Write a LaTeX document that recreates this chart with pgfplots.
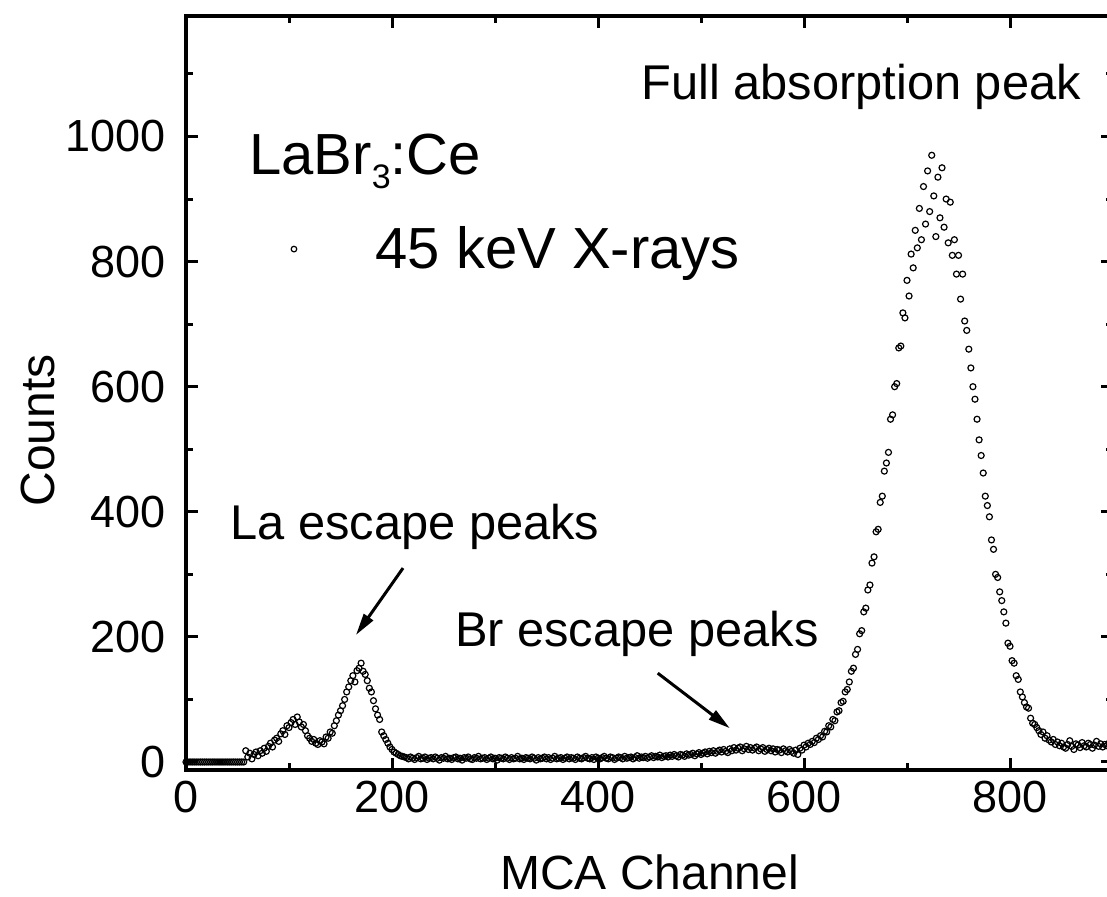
\documentclass[border=0pt]{standalone}
\usepackage{fontspec}
\setmainfont{Liberation Sans}
\usepackage{pgfplots}
\usepackage{pgfplotstable}
\pgfplotsset{compat=1.18}
\usetikzlibrary{calc,arrows.meta}

% 45 keV X-ray spectrum (every 2nd channel)
\pgfplotstableread{
ch cnt
0 0
2 0
4 0
6 0
8 0
10 0
12 0
14 0
16 0
18 0
20 0
22 0
24 0
26 0
28 0
30 0
32 0
34 0
36 0
38 0
40 0
42 0
44 0
46 0
48 0
50 0
52 0
54 0
56 0
58 18
60 8
62 14
64 5
66 12
68 16
70 10
72 18
74 14
76 22
78 17
80 25
82 30
84 24
86 35
88 38
90 33
92 45
94 50
96 44
98 58
100 55
102 63
104 68
106 60
108 72
110 64
112 56
114 60
116 50
118 42
120 38
122 33
124 36
126 30
128 28
130 34
132 32
134 29
136 40
138 38
140 48
142 46
144 58
146 66
148 75
150 82
152 90
154 100
156 112
158 120
160 130
162 138
164 128
166 146
168 150
170 158
172 145
174 140
176 130
178 118
180 112
182 98
184 85
186 75
188 68
190 48
192 42
194 36
196 30
198 24
200 20
202 16
204 14
206 12
208 10
210 9
212 8
214 7
216 5
218 8
220 6
222 4
224 7
226 9
228 5
230 6
232 8
234 4
236 6
238 7
240 5
242 8
244 6
246 3
248 7
250 6
252 9
254 5
256 6
258 4
260 7
262 8
264 5
266 6
268 3
270 7
272 6
274 8
276 5
278 4
280 7
282 6
284 9
286 5
288 6
290 7
292 4
294 6
296 8
298 5
300 6
302 3
304 7
306 6
308 5
310 8
312 6
314 4
316 7
318 5
320 6
322 9
324 5
326 6
328 4
330 7
332 6
334 5
336 8
338 6
340 3
342 7
344 5
346 6
348 8
350 5
352 7
354 4
356 6
358 9
360 5
362 6
364 7
366 4
368 6
370 8
372 5
374 7
376 6
378 4
380 8
382 6
384 5
386 7
388 9
390 6
392 5
394 7
396 4
398 8
400 6
402 5
404 7
406 9
408 6
410 5
412 8
414 7
416 4
418 6
420 8
422 7
424 5
426 9
428 6
430 7
432 8
434 5
436 7
438 10
440 6
442 8
444 7
446 9
448 6
450 8
452 10
454 7
456 9
458 8
460 11
462 7
464 9
466 10
468 8
470 11
472 9
474 12
476 10
478 8
480 12
482 11
484 9
486 13
488 11
490 12
492 14
494 10
496 13
498 15
500 12
502 14
504 16
506 13
508 17
510 15
512 18
514 14
516 17
518 19
520 16
522 20
524 17
526 15
528 21
530 18
532 23
534 19
536 22
538 24
540 18
542 21
544 25
546 20
548 23
550 19
552 22
554 24
556 18
558 21
560 23
562 17
564 20
566 22
568 18
570 21
572 16
574 20
576 19
578 15
580 21
582 18
584 16
586 20
588 17
590 14
592 19
594 12
596 22
598 19
600 27
602 24
604 30
606 28
608 33
610 31
612 38
614 36
616 42
618 40
620 49
622 48
624 58
626 56
628 68
630 66
632 80
634 82
636 95
638 97
640 112
642 116
644 128
646 145
648 150
650 172
652 180
654 205
656 210
658 240
660 246
662 275
664 283
666 318
668 328
670 368
672 372
674 415
676 425
678 465
680 478
682 495
684 548
686 555
688 600
690 605
692 662
694 665
696 718
698 710
700 770
702 745
704 812
706 790
708 850
710 822
712 885
714 835
716 920
718 860
720 945
722 880
724 970
726 905
728 840
730 935
732 870
734 950
736 855
738 900
740 830
742 895
744 810
746 835
748 780
750 810
752 740
754 780
756 705
758 690
760 660
762 630
764 600
766 580
768 548
770 515
772 490
774 462
776 425
778 410
780 392
782 355
784 340
786 300
788 295
790 272
792 258
794 240
796 222
798 190
800 185
802 162
804 158
806 138
808 132
810 112
812 104
814 95
816 88
818 86
820 70
822 62
824 60
826 55
828 50
830 44
832 48
834 38
836 42
838 35
840 32
842 36
844 28
846 32
848 26
850 30
852 24
854 22
856 28
858 34
860 25
862 20
864 29
866 27
868 23
870 31
872 26
874 24
876 30
878 28
880 22
882 27
884 33
886 25
888 29
890 24
892 28
894 26
896 30
898 26
900 29
}\spectrum

\begin{document}
\begin{tikzpicture}
\begin{axis}[
  scale only axis,
  width=463.5pt, height=377.1pt,
  xmin=0, xmax=900, ymin=-12.8, ymax=1193,
  axis line style={line width=2pt},
  tick align=inside,
  xtick={0,200,400,600,800}, minor xtick={100,300,500,700,900},
  ytick={0,200,400,600,800,1000}, minor ytick={100,300,500,700,900,1100},
  major tick length=6pt, minor tick length=3.5pt,
  tick style={line width=1.5pt, black},
  tick label style={font=\fontsize{22.5}{27}\selectfont},
  /pgf/number format/assume math mode=true,
  /pgf/number format/1000 sep={},
  xticklabel style={yshift=-2pt},
  yticklabel style={xshift=-6.5pt},
  xlabel={MCA Channel}, ylabel={Counts},
  label style={font=\fontsize{24}{29}\selectfont},
  xlabel style={at={(axis description cs:0.5,-0.159)}, anchor=base},
  ylabel style={at={(axis description cs:-0.142,0.45)}, anchor=base},
  legend style={draw=none, fill=none, at={(axis cs:85.4,820)}, anchor=west,
    inner sep=0pt, outer sep=0pt, nodes={inner sep=0pt},
    font=\fontsize{29}{34}\selectfont},
  legend cell align=left,
]
\addplot[only marks, mark=o, mark size=1.5pt, mark options={line width=0.6pt, black},
  legend image code/.code={
    \draw[black, line width=0.5pt, mark=o, mark size=1.4pt] plot[only marks] coordinates {(10pt,0pt)};
    \path[draw=none, fill=none] (0pt,0pt) -- (50.85pt,0pt);}]
  table[x=ch, y=cnt] {\spectrum};
\addlegendentry{45 keV X-rays}

\node[anchor=base west, inner sep=0pt, font=\fontsize{29}{34}\selectfont]
  at (axis cs:61.2,938.7) {LaBr\raisebox{-7pt}{\fontsize{17}{20}\selectfont 3}:Ce};
\node[anchor=base west, inner sep=0pt, font=\fontsize{24.4}{29}\selectfont]
  at (axis cs:441.7,1058.7) {Full absorption peak};
\node[anchor=base west, inner sep=0pt, font=\fontsize{24.4}{29}\selectfont]
  at (axis cs:42.7,355) {La escape peaks};
\node[anchor=base west, inner sep=0pt, font=\fontsize{24.4}{29}\selectfont]
  at (axis cs:260.8,184.4) {Br escape peaks};
\draw[line width=1.5pt, -{Triangle[length=11pt, width=5.5pt]}]
  (axis cs:210.7,310) -- (axis cs:165,203);
\draw[line width=1.5pt, -{Triangle[length=11pt, width=5.5pt]}]
  (axis cs:458,142) -- (axis cs:528,54);
\end{axis}
\pgfresetboundingbox
\path[use as bounding box] ($(current axis.south west)+(-93pt,-63.5pt)$)
  rectangle ($(current axis.north east)+(-3pt,7.9pt)$);
\end{tikzpicture}
\end{document}
